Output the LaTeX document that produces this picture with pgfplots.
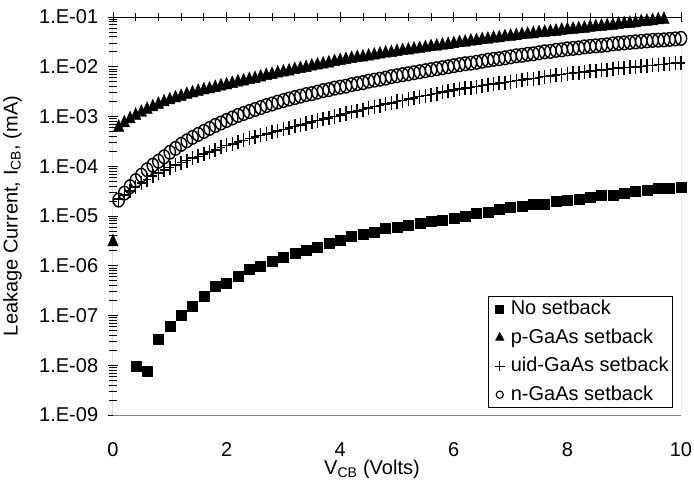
\documentclass[border=0pt]{standalone}
\usepackage{pgfplots}
\pgfplotsset{compat=1.18}
\usepackage{fontspec}
\setmainfont{Liberation Sans}
\definecolor{frame}{RGB}{128,128,128}
\begin{document}
\fontsize{20pt}{24pt}\selectfont
\begin{tikzpicture}
\useasboundingbox (-113pt,-66pt) rectangle (581pt,415pt);
\begin{axis}[
  at={(0pt,0pt)}, anchor=south west,
  scale only axis, width=568pt, height=398pt,
  xmin=0, xmax=10, ymode=log, ymin=1e-9, ymax=1e-1,
  axis line style={draw=none},
  xtick={0,2,4,6,8,10}, xticklabels={0,2,4,6,8,10},
  minor x tick num=4,
  xtick pos=upper, xticklabel pos=lower,
  ytick={1e-9,1e-8,1e-7,1e-6,1e-5,1e-4,1e-3,1e-2,1e-1},
  yticklabels={1.E-09,1.E-08,1.E-07,1.E-06,1.E-05,1.E-04,1.E-03,1.E-02,1.E-01},
  minor ytick={2e-9,3e-9,4e-9,5e-9,6e-9,7e-9,8e-9,9e-9,
    2e-8,3e-8,4e-8,5e-8,6e-8,7e-8,8e-8,9e-8,
    2e-7,3e-7,4e-7,5e-7,6e-7,7e-7,8e-7,9e-7,
    2e-6,3e-6,4e-6,5e-6,6e-6,7e-6,8e-6,9e-6,
    2e-5,3e-5,4e-5,5e-5,6e-5,7e-5,8e-5,9e-5,
    2e-4,3e-4,4e-4,5e-4,6e-4,7e-4,8e-4,9e-4,
    2e-3,3e-3,4e-3,5e-3,6e-3,7e-3,8e-3,9e-3,
    2e-2,3e-2,4e-2,5e-2,6e-2,7e-2,8e-2,9e-2},
  ytick pos=left, yticklabel pos=left,
  tick align=center, major tick length=10pt, minor tick length=8pt,
  every tick/.style={black, line width=0.8pt},
  tick label style={font=\fontsize{20pt}{24pt}\selectfont},
  xticklabel style={yshift=-16pt},
  yticklabel style={xshift=-3pt},
  xlabel={V\textsubscript{CB} (Volts)},
  xlabel style={at={(axis description cs:0.456,0)}, anchor=north, yshift=-38pt, font=\fontsize{20pt}{24pt}\selectfont},
  ylabel={Leakage Current, I\textsubscript{CB}, (mA)},
  ylabel style={font=\fontsize{20pt}{24pt}\selectfont, yshift=4pt},
  legend style={at={(0.986,0.018)}, anchor=south east, draw=black, line width=0.8pt,
    font=\fontsize{20pt}{24pt}\selectfont, row sep=7pt, inner sep=2pt,
    nodes={inner sep=2pt}, legend cell align=left},
  legend image code/.code={\path[draw=none,fill=none] (0pt,0pt) -- (18pt,0pt); \draw[#1] plot coordinates {(9pt,0pt)};},
]
\addplot[only marks, mark=square*, mark size=5pt, black, legend image post style={mark size=4pt}] table {
0.4 9.7e-9
0.6 7.7e-9
0.8 3.3e-8
1.0 6.2e-8
1.2 1.0e-7
1.4 1.53e-7
1.6 2.5e-7
1.8 3.8e-7
2.0 4.4e-7
2.2 6.2e-7
2.4 8.5e-7
2.6 1.0e-6
2.8 1.26e-6
3.0 1.52e-6
3.2 1.78e-6
3.4 2.07e-6
3.6 2.4e-6
3.8 2.8e-6
4.0 3.3e-6
4.2 3.85e-6
4.4 4.3e-6
4.6 4.7e-6
4.8 5.6e-6
5.0 5.9e-6
5.2 6.5e-6
5.4 7.1e-6
5.6 7.8e-6
5.8 8.3e-6
6.0 9.0e-6
6.2 1.0e-5
6.4 1.13e-5
6.6 1.22e-5
6.8 1.36e-5
7.0 1.49e-5
7.2 1.59e-5
7.4 1.72e-5
7.6 1.74e-5
7.8 1.94e-5
8.0 2.1e-5
8.2 2.2e-5
8.4 2.38e-5
8.6 2.57e-5
8.8 2.6e-5
9.0 2.86e-5
9.2 3.1e-5
9.4 3.33e-5
9.6 3.6e-5
9.8 3.62e-5
10.0 3.77e-5
};
\addlegendentry{No setback}
\addplot[only marks, mark=triangle*, mark size=6pt, mark options={yscale=1.3}, black, legend image post style={mark size=4.6pt, mark options={yscale=1.1}}] table {
0.0 3.0e-6
0.1 6.03e-4
0.2 7.41e-4
0.3 8.91e-4
0.4 1.05e-3
0.5 1.20e-3
0.6 1.38e-3
0.7 1.55e-3
0.8 1.74e-3
0.9 1.95e-3
1.0 2.14e-3
1.1 2.34e-3
1.2 2.51e-3
1.3 2.75e-3
1.4 2.95e-3
1.5 3.16e-3
1.6 3.39e-3
1.7 3.55e-3
1.8 3.80e-3
1.9 4.07e-3
2.0 4.27e-3
2.1 4.57e-3
2.2 4.90e-3
2.3 5.13e-3
2.4 5.50e-3
2.5 5.75e-3
2.6 6.17e-3
2.7 6.61e-3
2.8 6.92e-3
2.9 7.41e-3
3.0 7.76e-3
3.1 8.13e-3
3.2 8.71e-3
3.3 9.12e-3
3.4 9.55e-3
3.5 1.02e-2
3.6 1.07e-2
3.7 1.12e-2
3.8 1.18e-2
3.9 1.26e-2
4.0 1.32e-2
4.1 1.38e-2
4.2 1.45e-2
4.3 1.51e-2
4.4 1.55e-2
4.5 1.62e-2
4.6 1.70e-2
4.7 1.78e-2
4.8 1.86e-2
4.9 1.91e-2
5.0 2.00e-2
5.1 2.09e-2
5.2 2.14e-2
5.3 2.24e-2
5.4 2.29e-2
5.5 2.40e-2
5.6 2.51e-2
5.7 2.57e-2
5.8 2.69e-2
5.9 2.75e-2
6.0 2.88e-2
6.1 3.02e-2
6.2 3.09e-2
6.3 3.24e-2
6.4 3.31e-2
6.5 3.47e-2
6.6 3.55e-2
6.7 3.72e-2
6.8 3.80e-2
6.9 3.98e-2
7.0 4.07e-2
7.1 4.17e-2
7.2 4.37e-2
7.3 4.47e-2
7.4 4.57e-2
7.5 4.79e-2
7.6 4.90e-2
7.7 5.01e-2
7.8 5.13e-2
7.9 5.37e-2
8.0 5.50e-2
8.1 5.62e-2
8.2 5.75e-2
8.3 5.89e-2
8.4 6.17e-2
8.5 6.31e-2
8.6 6.46e-2
8.7 6.61e-2
8.8 6.76e-2
8.9 7.08e-2
9.0 7.24e-2
9.1 7.41e-2
9.2 7.59e-2
9.3 7.94e-2
9.4 8.13e-2
9.5 8.32e-2
9.6 8.71e-2
9.7 8.91e-2
};
\addlegendentry{p-GaAs setback}
\addplot[only marks, mark=+, mark size=4.4pt, mark options={yscale=1.6}, line width=1.5pt, black, legend image post style={mark size=4.8pt, mark options={yscale=1}, line width=1.2pt}] table {
0.1 2.19e-5
0.2 2.63e-5
0.3 3.16e-5
0.4 3.80e-5
0.5 4.57e-5
0.6 5.37e-5
0.7 6.31e-5
0.8 7.24e-5
0.9 8.32e-5
1.0 9.33e-5
1.1 1.05e-4
1.2 1.18e-4
1.3 1.29e-4
1.4 1.45e-4
1.5 1.58e-4
1.6 1.78e-4
1.7 1.95e-4
1.8 2.14e-4
1.9 2.40e-4
2.0 2.63e-4
2.1 2.82e-4
2.2 3.09e-4
2.3 3.31e-4
2.4 3.63e-4
2.5 3.89e-4
2.6 4.17e-4
2.7 4.47e-4
2.8 4.79e-4
2.9 5.13e-4
3.0 5.50e-4
3.1 5.89e-4
3.2 6.31e-4
3.3 6.76e-4
3.4 7.24e-4
3.5 7.76e-4
3.6 8.32e-4
3.7 8.91e-4
3.8 9.33e-4
3.9 1.00e-3
4.0 1.07e-3
4.1 1.15e-3
4.2 1.23e-3
4.3 1.29e-3
4.4 1.38e-3
4.5 1.48e-3
4.6 1.58e-3
4.7 1.66e-3
4.8 1.78e-3
4.9 1.86e-3
5.0 2.00e-3
5.1 2.09e-3
5.2 2.24e-3
5.3 2.34e-3
5.4 2.51e-3
5.5 2.63e-3
5.6 2.75e-3
5.7 2.88e-3
5.8 3.09e-3
5.9 3.24e-3
6.0 3.39e-3
6.1 3.55e-3
6.2 3.72e-3
6.3 3.80e-3
6.4 3.98e-3
6.5 4.17e-3
6.6 4.37e-3
6.7 4.47e-3
6.8 4.68e-3
6.9 4.79e-3
7.0 5.01e-3
7.1 5.25e-3
7.2 5.37e-3
7.3 5.62e-3
7.4 5.75e-3
7.5 6.03e-3
7.6 6.31e-3
7.7 6.46e-3
7.8 6.76e-3
7.9 6.92e-3
8.0 7.24e-3
8.1 7.41e-3
8.2 7.59e-3
8.3 7.76e-3
8.4 8.13e-3
8.5 8.32e-3
8.6 8.51e-3
8.7 8.71e-3
8.8 9.12e-3
8.9 9.33e-3
9.0 9.55e-3
9.1 9.77e-3
9.2 1.00e-2
9.3 1.02e-2
9.4 1.05e-2
9.5 1.07e-2
9.6 1.10e-2
9.7 1.12e-2
9.8 1.15e-2
9.9 1.18e-2
10.0 1.20e-2
};
\addlegendentry{uid-GaAs setback}
\addplot[only marks, mark=o, mark size=5.7pt, mark options={yscale=1.2}, line width=1.4pt, black, legend image post style={mark size=3.6pt, mark options={yscale=1}, line width=1.1pt}] table {
0.1 2.09e-5
0.2 2.88e-5
0.3 3.89e-5
0.4 5.13e-5
0.5 6.61e-5
0.6 8.51e-5
0.7 1.05e-4
0.8 1.26e-4
0.9 1.55e-4
1.0 1.91e-4
1.1 2.29e-4
1.2 2.75e-4
1.3 3.24e-4
1.4 3.80e-4
1.5 4.37e-4
1.6 5.01e-4
1.7 5.75e-4
1.8 6.61e-4
1.9 7.41e-4
2.0 8.32e-4
2.1 9.33e-4
2.2 1.05e-3
2.3 1.15e-3
2.4 1.26e-3
2.5 1.38e-3
2.6 1.51e-3
2.7 1.66e-3
2.8 1.78e-3
2.9 1.95e-3
3.0 2.09e-3
3.1 2.24e-3
3.2 2.40e-3
3.3 2.57e-3
3.4 2.75e-3
3.5 2.88e-3
3.6 3.09e-3
3.7 3.31e-3
3.8 3.47e-3
3.9 3.72e-3
4.0 3.89e-3
4.1 4.07e-3
4.2 4.37e-3
4.3 4.57e-3
4.4 4.79e-3
4.5 5.13e-3
4.6 5.37e-3
4.7 5.62e-3
4.8 5.89e-3
4.9 6.31e-3
5.0 6.61e-3
5.1 6.92e-3
5.2 7.24e-3
5.3 7.59e-3
5.4 7.94e-3
5.5 8.32e-3
5.6 8.71e-3
5.7 9.12e-3
5.8 9.55e-3
5.9 1.00e-2
6.0 1.05e-2
6.1 1.10e-2
6.2 1.15e-2
6.3 1.18e-2
6.4 1.23e-2
6.5 1.29e-2
6.6 1.35e-2
6.7 1.41e-2
6.8 1.45e-2
6.9 1.51e-2
7.0 1.58e-2
7.1 1.66e-2
7.2 1.70e-2
7.3 1.78e-2
7.4 1.82e-2
7.5 1.91e-2
7.6 2.00e-2
7.7 2.04e-2
7.8 2.14e-2
7.9 2.19e-2
8.0 2.29e-2
8.1 2.34e-2
8.2 2.40e-2
8.3 2.51e-2
8.4 2.57e-2
8.5 2.63e-2
8.6 2.69e-2
8.7 2.75e-2
8.8 2.88e-2
8.9 2.95e-2
9.0 3.02e-2
9.1 3.09e-2
9.2 3.16e-2
9.3 3.24e-2
9.4 3.31e-2
9.5 3.39e-2
9.6 3.42e-2
9.7 3.47e-2
9.8 3.55e-2
9.9 3.63e-2
10.0 3.72e-2
};
\addlegendentry{n-GaAs setback}
\draw[frame, line width=1pt] (rel axis cs:0,0) -- (rel axis cs:1,0) -- (rel axis cs:1,1);
\draw[black, line width=1pt] (rel axis cs:0,0) -- (rel axis cs:0,1) -- (rel axis cs:1,1);
\end{axis}
\end{tikzpicture}
\end{document}
